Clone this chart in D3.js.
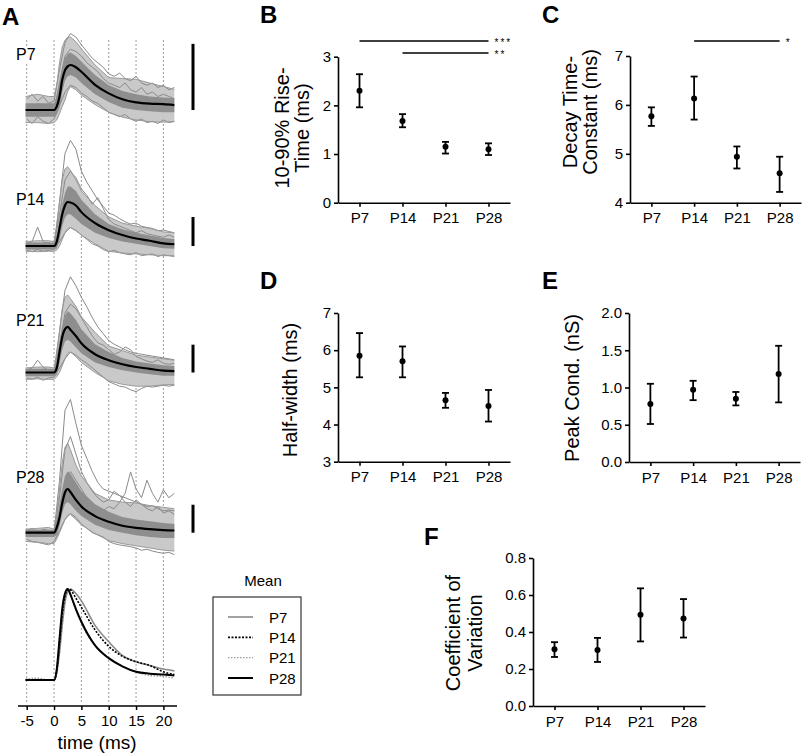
<!DOCTYPE html>
<html>
<head>
<meta charset="utf-8">
<script src="https://cdn.jsdelivr.net/npm/d3@7"></script>
<style>
body { margin: 0; background: #fff; }
svg text { font-family: Arial, "Liberation Sans", sans-serif; fill: #000; }
</style>
</head>
<body>
<div id="fig"></div>
<script>
// ---- data ----
var ages = ["P7", "P14", "P21", "P28"];

// panel A: sample times (ms) and normalised amplitudes
var tGrid = [-5.2, -3, -1, 0, 0.5, 1, 1.5, 2, 2.5, 3, 4, 5, 7.5, 10, 12.5, 15, 17.5, 20, 22];

var meanP7  = [0, 0, 0, 0, 0.08, 0.30, 0.67, 0.88, 0.97, 1.00, 0.95, 0.85, 0.56, 0.37, 0.24, 0.17, 0.14, 0.13, 0.11];
var meanP14 = [0, 0, 0, 0, 0.10, 0.40, 0.72, 0.92, 1.00, 0.99, 0.92, 0.77, 0.52, 0.36, 0.25, 0.17, 0.12, 0.06, 0.04];
var meanP21 = [0, 0, 0, 0, 0.10, 0.45, 0.78, 0.95, 1.00, 0.94, 0.80, 0.64, 0.40, 0.27, 0.18, 0.12, 0.08, 0.04, 0.03];
var meanP28 = [0, 0, 0, 0, 0.12, 0.35, 0.68, 0.92, 1.00, 0.93, 0.75, 0.60, 0.38, 0.25, 0.16, 0.11, 0.08, 0.06, 0.05];

// outer spread of the single traces
var hiP7  = [0.30, 0.35, 0.30, 0.30, 0.55, 1.05, 1.40, 1.55, 1.62, 1.62, 1.52, 1.36, 1.00, 0.72, 0.70, 0.68, 0.60, 0.52, 0.46];
var loP7  = [-0.28, -0.28, -0.30, -0.28, -0.22, -0.08, 0.08, 0.22, 0.42, 0.52, 0.45, 0.33, 0.12, -0.05, -0.16, -0.22, -0.26, -0.27, -0.26];
var hiP14 = [0.10, 0.12, 0.12, 0.10, 0.45, 1.00, 1.50, 1.75, 1.80, 1.72, 1.50, 1.25, 0.92, 0.66, 0.52, 0.45, 0.40, 0.32, 0.30];
var loP14 = [-0.12, -0.13, -0.12, -0.12, -0.09, 0.00, 0.15, 0.30, 0.40, 0.42, 0.35, 0.25, 0.05, -0.12, -0.16, -0.18, -0.2, -0.22, -0.22];
var hiP21 = [0.10, 0.12, 0.12, 0.10, 0.38, 0.90, 1.40, 1.65, 1.70, 1.62, 1.45, 1.22, 0.88, 0.58, 0.48, 0.38, 0.34, 0.30, 0.27];
var loP21 = [-0.15, -0.14, -0.15, -0.15, -0.09, 0.00, 0.15, 0.30, 0.42, 0.45, 0.35, 0.22, 0.00, -0.18, -0.26, -0.30, -0.30, -0.27, -0.26];
var hiP28 = [0.08, 0.10, 0.12, 0.08, 0.45, 1.00, 1.60, 1.95, 2.05, 1.90, 1.55, 1.30, 0.90, 0.75, 0.70, 0.68, 0.62, 0.58, 0.55];
var loP28 = [-0.20, -0.22, -0.25, -0.25, -0.14, 0.00, 0.15, 0.30, 0.40, 0.42, 0.30, 0.18, -0.02, -0.18, -0.25, -0.30, -0.35, -0.40, -0.42];

// dense core of the single traces
var coreHiP7  = [0.15, 0.15, 0.15, 0.15, 0.30, 0.60, 0.95, 1.15, 1.25, 1.28, 1.20, 1.08, 0.78, 0.55, 0.42, 0.35, 0.30, 0.28, 0.26];
var coreLoP7  = [-0.15, -0.15, -0.15, -0.15, -0.10, 0.05, 0.40, 0.65, 0.75, 0.78, 0.72, 0.60, 0.35, 0.18, 0.05, 0.00, -0.03, -0.05, -0.05];
var coreHiP14 = [0.08, 0.08, 0.08, 0.08, 0.25, 0.60, 0.95, 1.20, 1.35, 1.35, 1.25, 1.05, 0.72, 0.50, 0.38, 0.30, 0.24, 0.18, 0.16];
var coreLoP14 = [-0.08, -0.08, -0.08, -0.08, -0.05, 0.15, 0.45, 0.65, 0.72, 0.72, 0.62, 0.50, 0.30, 0.18, 0.10, 0.05, 0.00, -0.05, -0.06];
var coreHiP21 = [0.08, 0.08, 0.08, 0.08, 0.25, 0.65, 1.00, 1.25, 1.35, 1.30, 1.15, 0.95, 0.62, 0.45, 0.32, 0.24, 0.20, 0.16, 0.14];
var coreLoP21 = [-0.08, -0.08, -0.08, -0.08, -0.05, 0.20, 0.50, 0.68, 0.72, 0.68, 0.55, 0.42, 0.22, 0.12, 0.05, 0.00, -0.04, -0.07, -0.07];
var coreHiP28 = [0.07, 0.07, 0.07, 0.07, 0.30, 0.65, 1.00, 1.30, 1.40, 1.35, 1.15, 0.95, 0.65, 0.48, 0.36, 0.30, 0.26, 0.22, 0.20];
var coreLoP28 = [-0.10, -0.10, -0.10, -0.10, -0.05, 0.15, 0.45, 0.65, 0.70, 0.65, 0.50, 0.38, 0.18, 0.06, 0.00, -0.06, -0.10, -0.12, -0.12];

// a few single traces picked out of each bundle, sampled every 1 ms from -5 to 22
var tFine = [-5, -4, -3, -2, -1, 0, 1, 2, 3, 4, 5, 6, 7, 8, 9, 10, 11, 12, 13, 14, 15, 16, 17, 18, 19, 20, 21, 22];
var traceP7a  = [0.25, 0.35, 0.2, 0.3, 0.15, 0.2, 0.9, 1.5, 1.7, 1.62, 1.45, 1.3, 1.15, 1.05, 0.95, 0.8, 0.75, 0.82, 0.7, 0.65, 0.75, 0.6, 0.55, 0.6, 0.5, 0.55, 0.45, 0.5];
var traceP7b  = [-0.2, -0.3, -0.15, -0.25, -0.3, -0.2, 0.1, 0.4, 0.55, 0.5, 0.38, 0.3, 0.2, 0.15, 0.05, -0.05, -0.1, -0.15, -0.1, -0.2, -0.25, -0.2, -0.28, -0.25, -0.3, -0.22, -0.28, -0.25];
var traceP7c  = [0.1, 0.0, 0.15, 0.05, 0.1, 0.0, 0.6, 1.2, 1.35, 1.3, 1.2, 1.05, 0.95, 0.85, 0.7, 0.6, 0.55, 0.5, 0.6, 0.45, 0.4, 0.5, 0.35, 0.4, 0.3, 0.35, 0.3, 0.25];
var traceP14a = [0.05, 0.1, 0.43, 0.1, 0.05, 0.0, 1.0, 2.1, 2.4, 2.2, 1.7, 1.45, 1.25, 1.05, 0.9, 0.75, 0.7, 0.62, 0.55, 0.5, 0.52, 0.45, 0.42, 0.4, 0.35, 0.36, 0.33, 0.3];
var traceP14b = [-0.1, -0.13, -0.08, -0.12, -0.1, -0.08, 0.1, 0.3, 0.42, 0.35, 0.25, 0.15, 0.05, 0.0, -0.08, -0.13, -0.1, -0.15, -0.18, -0.2, -0.15, -0.22, -0.2, -0.18, -0.24, -0.2, -0.22, -0.24];
var traceP14c = [0.02, 0.06, 0.0, 0.05, 0.08, 0.02, 0.7, 1.5, 1.7, 1.55, 1.3, 1.15, 0.95, 1.1, 0.85, 0.6, 0.5, 0.45, 0.4, 0.35, 0.3, 0.35, 0.28, 0.25, 0.22, 0.2, 0.25, 0.2];
var traceP21a = [0.05, 0.1, 0.27, 0.12, 0.05, 0.03, 0.9, 1.8, 2.1, 1.9, 1.65, 1.44, 1.2, 1.0, 0.85, 0.7, 0.62, 0.56, 0.5, 0.45, 0.42, 0.4, 0.38, 0.36, 0.34, 0.32, 0.3, 0.28];
var traceP21b = [-0.12, -0.15, -0.1, -0.17, -0.12, -0.1, 0.1, 0.3, 0.45, 0.38, 0.28, 0.2, 0.1, 0.0, -0.1, -0.2, -0.25, -0.3, -0.32, -0.38, -0.42, -0.35, -0.3, -0.32, -0.3, -0.28, -0.3, -0.28];
var traceP21c = [0.0, 0.05, 0.02, 0.08, 0.0, 0.02, 0.6, 1.3, 1.5, 1.4, 1.2, 1.0, 0.8, 0.65, 0.6, 0.5, 0.4, 0.45, 0.56, 0.5, 0.35, 0.3, 0.25, 0.22, 0.28, 0.2, 0.18, 0.2];
var traceP28a = [0.05, 0.1, 0.0, 0.08, 0.05, 0.0, 1.2, 2.8, 3.05, 2.5, 2.0, 1.7, 1.4, 1.15, 1.0, 0.95, 0.9, 0.85, 0.8, 0.75, 0.7, 0.65, 0.6, 0.62, 0.55, 0.5, 0.52, 0.5];
var traceP28b = [0.0, -0.05, 0.05, 0.0, -0.05, 0.0, 0.5, 1.2, 1.4, 1.2, 1.0, 0.8, 0.65, 0.55, 0.5, 0.6, 0.55, 0.7, 0.9, 1.39, 1.0, 0.8, 1.2, 0.9, 0.7, 0.98, 0.8, 0.9];
var traceP28c = [-0.15, -0.2, -0.22, -0.25, -0.28, -0.2, 0.05, 0.3, 0.44, 0.35, 0.2, 0.1, 0.0, -0.05, -0.1, -0.2, -0.25, -0.28, -0.3, -0.32, -0.35, -0.4, -0.38, -0.42, -0.45, -0.47, -0.45, -0.5];
var traceP28d = [0.02, 0.0, 0.05, 0.03, 0.0, 0.02, 0.8, 1.9, 2.2, 1.8, 1.4, 1.15, 0.95, 0.8, 0.7, 0.75, 0.95, 0.85, 0.7, 0.6, 0.75, 0.65, 0.55, 0.5, 0.6, 0.45, 0.5, 0.42];

var scaleBars = [1.47, 0.66, 0.61, 0.64];   // scale bar height, in units of each mean peak
var timeTicks = [-5, 0, 5, 10, 15, 20];

// peak-normalised means (bottom of panel A)
var normGrid = [-5.2, -3, -1, 0, 0.5, 1, 1.5, 2, 2.5, 3, 3.5, 4, 5, 7.5, 10, 12.5, 15, 17.5, 20, 22];
var normP7  = [0, 0, 0, 0, 0.08, 0.30, 0.60, 0.85, 0.97, 1.00, 0.98, 0.95, 0.87, 0.60, 0.42, 0.27, 0.20, 0.16, 0.12, 0.10];
var normP14 = [0, 0, 0, 0, 0.10, 0.40, 0.72, 0.92, 0.99, 0.99, 0.95, 0.90, 0.80, 0.55, 0.37, 0.26, 0.20, 0.16, 0.09, 0.06];
var normP21 = [0.01, 0.02, 0, 0, 0.12, 0.45, 0.78, 0.95, 1.00, 0.93, 0.85, 0.77, 0.62, 0.38, 0.24, 0.15, 0.09, 0.05, 0.04, 0.02];
var normP28 = [0, 0, 0, 0, 0.12, 0.45, 0.78, 0.95, 1.00, 0.94, 0.86, 0.78, 0.64, 0.38, 0.24, 0.15, 0.09, 0.07, 0.06, 0.05];

// panels B-F: mean and error bar ends
var riseMean = [2.30, 1.68, 1.15, 1.10];
var riseLow  = [1.96, 1.55, 1.01, 0.98];
var riseHigh = [2.64, 1.82, 1.25, 1.22];
var riseTicks = [0, 1, 2, 3];
var riseSig = [["P7", "P28", "***"], ["P14", "P28", "**"]];

var decayMean = [5.77, 6.13, 4.94, 4.60];
var decayLow  = [5.57, 5.70, 4.70, 4.22];
var decayHigh = [5.95, 6.58, 5.15, 4.94];
var decayTicks = [4, 5, 6, 7];
var decaySig = [["P14", "P28", "*"]];

var halfMean = [5.85, 5.70, 4.65, 4.50];
var halfLow  = [5.27, 5.27, 4.45, 4.08];
var halfHigh = [6.46, 6.10, 4.85, 4.93];
var halfTicks = [3, 4, 5, 6, 7];

var peakMean = [0.78, 0.97, 0.85, 1.18];
var peakLow  = [0.51, 0.83, 0.76, 0.80];
var peakHigh = [1.05, 1.09, 0.94, 1.56];
var peakTicks = [0, 0.5, 1.0, 1.5, 2.0];

var cvMean = [0.307, 0.303, 0.493, 0.473];
var cvLow  = [0.265, 0.238, 0.349, 0.370];
var cvHigh = [0.345, 0.368, 0.636, 0.578];
var cvTicks = [0, 0.2, 0.4, 0.6, 0.8];

// ---- drawing ----
var width = 803, height = 756;

var svg = d3.select("#fig").append("svg")
    .attr("width", width)
    .attr("height", height);

// panel letters
var letters = [["A", 2, 25], ["B", 260, 23], ["C", 542, 23], ["D", 260, 289], ["E", 542, 289], ["F", 424, 545]];
svg.selectAll("text.letter").data(letters).enter().append("text")
    .attr("class", "letter")
    .attr("x", function(d) { return d[1]; })
    .attr("y", function(d) { return d[2]; })
    .style("font-size", "24px")
    .style("font-weight", "bold")
    .text(function(d) { return d[0]; });

// ===== panel A =====
var xT = d3.scaleLinear().domain([-5, 20]).range([26.7, 163.4]);

svg.append("g").selectAll("line").data(timeTicks).enter().append("line")
    .attr("x1", function(d) { return xT(d); })
    .attr("x2", function(d) { return xT(d); })
    .attr("y1", 40)
    .attr("y2", 703)
    .attr("stroke", "#9a9a9a")
    .attr("stroke-width", 1)
    .attr("stroke-dasharray", "2,2");

var base = [110, 246, 372.5, 532.7];
var amp = [45, 44, 45.6, 43.7];
var means = [meanP7, meanP14, meanP21, meanP28];
var his = [hiP7, hiP14, hiP21, hiP28];
var los = [loP7, loP14, loP21, loP28];
var coreHis = [coreHiP7, coreHiP14, coreHiP21, coreHiP28];
var coreLos = [coreLoP7, coreLoP14, coreLoP21, coreLoP28];
var singles = [
  [traceP7a, traceP7b, traceP7c],
  [traceP14a, traceP14b, traceP14c],
  [traceP21a, traceP21b, traceP21c],
  [traceP28a, traceP28b, traceP28c, traceP28d]
];
var labelY = [60, 205, 326, 483];

ages.forEach(function(age, i) {
  var y = d3.scaleLinear().domain([0, 1]).range([base[i], base[i] - amp[i]]);
  var g = svg.append("g").attr("class", "traces");

  // label with white box so the dotted grid stops behind it
  var lab = g.append("text")
      .attr("x", 16)
      .attr("y", labelY[i])
      .style("font-size", "16px")
      .text(age);
  var bb = lab.node().getBBox();
  g.insert("rect", "text")
      .attr("x", bb.x - 1).attr("y", bb.y)
      .attr("width", bb.width + 2).attr("height", bb.height)
      .attr("fill", "#fff");

  var band = function(hi, lo) {
    return d3.area()
        .x(function(d, k) { return xT(tGrid[k]); })
        .y0(function(d, k) { return y(lo[k]); })
        .y1(function(d, k) { return y(hi[k]); })(tGrid);
  };
  var edge = function(v) {
    return d3.line()
        .x(function(d, k) { return xT(tGrid[k]); })
        .y(function(d) { return y(d); })(v);
  };

  g.append("path").attr("d", band(his[i], los[i]))
      .attr("fill", "#c9c9c9");
  g.selectAll("path.single").data(singles[i]).enter().append("path")
      .attr("class", "single")
      .attr("d", d3.line()
          .x(function(d, k) { return xT(tFine[k]); })
          .y(function(d) { return y(d); }))
      .attr("fill", "none")
      .attr("stroke", "#8a8a8a")
      .attr("stroke-width", 1);
  g.append("path").attr("d", edge(his[i]))
      .attr("fill", "none").attr("stroke", "#9a9a9a").attr("stroke-width", 1);
  g.append("path").attr("d", edge(los[i]))
      .attr("fill", "none").attr("stroke", "#9a9a9a").attr("stroke-width", 1);
  g.append("path").attr("d", band(coreHis[i], coreLos[i]))
      .attr("fill", "#8e8e8e");
  g.append("path")
      .attr("d", d3.line()
          .x(function(d, k) { return xT(tGrid[k]); })
          .y(function(d) { return y(d); })
          .curve(d3.curveMonotoneX)(means[i]))
      .attr("fill", "none")
      .attr("stroke", "#000")
      .attr("stroke-width", 2.2);

  // scale bar
  g.append("line")
      .attr("x1", 193).attr("x2", 193)
      .attr("y1", y(0)).attr("y2", y(scaleBars[i]))
      .attr("stroke", "#000")
      .attr("stroke-width", 3);
});

// overlay of normalised means
var yN = d3.scaleLinear().domain([0, 1]).range([680, 589]);
var norms = [
  {age: "P7", v: normP7, color: "#8a8a8a", dash: null, w: 1.6},
  {age: "P14", v: normP14, color: "#000", dash: "2,1.5", w: 1.6},
  {age: "P21", v: normP21, color: "#9a9a9a", dash: "1.5,1.5", w: 1.4},
  {age: "P28", v: normP28, color: "#000", dash: null, w: 2}
];
var normLine = d3.line()
    .x(function(d, k) { return xT(normGrid[k]); })
    .y(function(d) { return yN(d); })
    .curve(d3.curveMonotoneX);

svg.append("g").selectAll("path").data(norms).enter().append("path")
    .attr("d", function(d) { return normLine(d.v); })
    .attr("fill", "none")
    .attr("stroke", function(d) { return d.color; })
    .attr("stroke-width", function(d) { return d.w; })
    .attr("stroke-dasharray", function(d) { return d.dash; });

// time axis
var tAxis = svg.append("g")
    .attr("transform", "translate(0,706)")
    .call(d3.axisBottom(xT).tickValues(timeTicks).tickSize(4).tickPadding(5)
        .tickFormat(function(d) { return String(d); }));
tAxis.select(".domain").remove();
tAxis.selectAll(".tick line").attr("stroke-width", 1.5);
tAxis.selectAll("text").style("font-size", "15px").style("font-family", "Arial, 'Liberation Sans', sans-serif");
tAxis.append("line").attr("x1", 18).attr("x2", 177).attr("stroke", "#000").attr("stroke-width", 1.5);

svg.append("text")
    .attr("x", 97).attr("y", 749)
    .attr("text-anchor", "middle")
    .style("font-size", "19px")
    .text("time (ms)");

// legend
var leg = svg.append("g");
leg.append("text")
    .attr("x", 263).attr("y", 586)
    .attr("text-anchor", "middle")
    .style("font-size", "15px")
    .text("Mean");
leg.append("rect")
    .attr("x", 213).attr("y", 597)
    .attr("width", 88).attr("height", 98)
    .attr("fill", "none")
    .attr("stroke", "#333")
    .attr("stroke-width", 1.2);
var legRow = d3.scalePoint().domain(ages).range([617, 678]);
var rows = leg.selectAll("g.row").data(norms).enter().append("g")
    .attr("class", "row")
    .attr("transform", function(d) { return "translate(0," + legRow(d.age) + ")"; });
rows.append("line")
    .attr("x1", 228).attr("x2", 253)
    .attr("stroke", function(d) { return d.color; })
    .attr("stroke-width", function(d) { return d.w; })
    .attr("stroke-dasharray", function(d) { return d.dash; });
rows.append("text")
    .attr("x", 269).attr("y", 5.5)
    .style("font-size", "15px")
    .text(function(d) { return d.age; });

// ===== panels B-F =====
function dotPanel(cfg) {
  var x = d3.scalePoint().domain(ages).range(cfg.xr).padding(0.5);
  var y = d3.scaleLinear().domain(cfg.domain).range(cfg.yr);
  var g = svg.append("g");

  var yAxis = g.append("g")
      .attr("transform", "translate(" + cfg.xr[0] + ",0)")
      .call(d3.axisLeft(y).tickValues(cfg.ticks).tickSize(4).tickSizeOuter(0).tickPadding(3)
          .tickFormat(cfg.fmt ? d3.format(cfg.fmt) : function(d) { return String(d); }));
  var xAxis = g.append("g")
      .attr("transform", "translate(0," + cfg.yr[0] + ")")
      .call(d3.axisBottom(x).tickSize(4).tickSizeOuter(0).tickPadding(6));
  [yAxis, xAxis].forEach(function(a) {
    a.selectAll("path, line").attr("stroke-width", 1.6);
    a.selectAll("text").style("font-size", "15px").style("font-family", "Arial, 'Liberation Sans', sans-serif");
  });

  var pts = g.selectAll("g.pt").data(ages).enter().append("g").attr("class", "pt");
  pts.append("line")
      .attr("x1", function(d) { return x(d); })
      .attr("x2", function(d) { return x(d); })
      .attr("y1", function(d, i) { return y(cfg.low[i]); })
      .attr("y2", function(d, i) { return y(cfg.high[i]); })
      .attr("stroke", "#000").attr("stroke-width", 1.8);
  [cfg.low, cfg.high].forEach(function(arr) {
    pts.append("line")
        .attr("x1", function(d) { return x(d) - 3.5; })
        .attr("x2", function(d) { return x(d) + 3.5; })
        .attr("y1", function(d, i) { return y(arr[i]); })
        .attr("y2", function(d, i) { return y(arr[i]); })
        .attr("stroke", "#000").attr("stroke-width", 1.8);
  });
  pts.append("circle")
      .attr("cx", function(d) { return x(d); })
      .attr("cy", function(d, i) { return y(cfg.mean[i]); })
      .attr("r", 3)
      .attr("fill", "#000");

  // axis title, one or two lines
  cfg.title.forEach(function(t, k) {
    g.append("text")
        .attr("transform", "translate(" + cfg.titleX[k] + "," + cfg.titleY + ") rotate(-90)")
        .attr("text-anchor", "middle")
        .attr("dy", "0.35em")
        .style("font-size", "20px")
        .text(t);
  });

  // significance bars
  (cfg.sig || []).forEach(function(s, k) {
    var yy = 41 + 12 * k;
    g.append("line")
        .attr("x1", x(s[0])).attr("x2", x(s[1]))
        .attr("y1", yy).attr("y2", yy)
        .attr("stroke", "#000").attr("stroke-width", 1.4);
    g.append("text")
        .attr("x", x(s[1]) + 6).attr("y", yy + 5)
        .style("font-size", "10px")
        .style("letter-spacing", "2px")
        .text(s[2]);
  });
}

dotPanel({xr: [338, 510], yr: [202.7, 56.7], domain: [0, 3], ticks: riseTicks,
  mean: riseMean, low: riseLow, high: riseHigh, sig: riseSig,
  title: ["10-90% Rise-", "Time (ms)"], titleX: [282, 302], titleY: 128});
dotPanel({xr: [630, 801], yr: [202.7, 56], domain: [4, 7], ticks: decayTicks,
  mean: decayMean, low: decayLow, high: decayHigh, sig: decaySig,
  title: ["Decay Time-", "Constant (ms)"], titleX: [570, 590], titleY: 112});
dotPanel({xr: [338, 510], yr: [461.7, 313], domain: [3, 7], ticks: halfTicks,
  mean: halfMean, low: halfLow, high: halfHigh,
  title: ["Half-width (ms)"], titleX: [290], titleY: 390});
dotPanel({xr: [629, 800], yr: [462, 313], domain: [0, 2], ticks: peakTicks, fmt: ".1f",
  mean: peakMean, low: peakLow, high: peakHigh,
  title: ["Peak Cond. (nS)"], titleX: [572], titleY: 388});
dotPanel({xr: [533, 705], yr: [706, 558], domain: [0, 0.8], ticks: cvTicks, fmt: ".1f",
  mean: cvMean, low: cvLow, high: cvHigh,
  title: ["Coefficient of", "Variation"], titleX: [453, 475], titleY: 633});
</script>
</body>
</html>
